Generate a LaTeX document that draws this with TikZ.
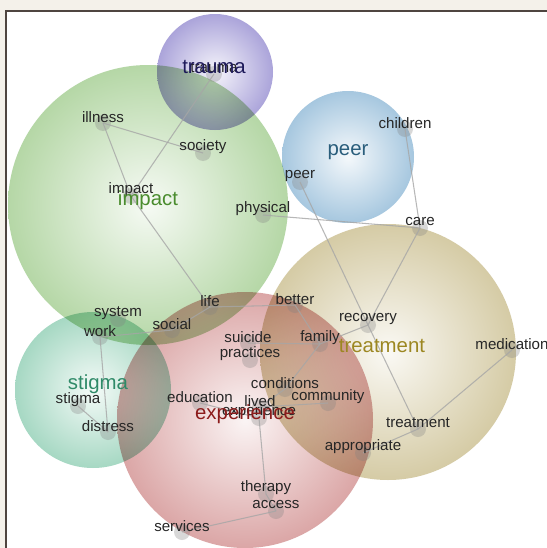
\documentclass[tikz,border=0pt]{standalone}
\usepackage{fontspec}
\setmainfont{Liberation Sans}
\usetikzlibrary{positioning}

\definecolor{paper}{HTML}{F4F1EA}
\definecolor{frame}{HTML}{4F4540}
\definecolor{traumaC}{HTML}{ABA4DA}
\definecolor{impactC}{HTML}{B5D7A6}
\definecolor{peerC}{HTML}{A6C7DF}
\definecolor{treatC}{HTML}{D5CBA5}
\definecolor{stigmaC}{HTML}{A6D8C3}
\definecolor{expC}{HTML}{DBA6A6}
\definecolor{traumaT}{HTML}{1E1A5A}
\definecolor{impactT}{HTML}{4A8C2E}
\definecolor{peerT}{HTML}{2A5E7C}
\definecolor{treatT}{HTML}{9C8722}
\definecolor{stigmaT}{HTML}{2F8A68}
\definecolor{expT}{HTML}{8C1C1C}

\begin{document}
\begin{tikzpicture}[x=0.02cm, y=-0.02cm,
    dot/.style={circle, fill=gray, fill opacity=0.3, inner sep=0pt, minimum size=0.32cm},
    word/.style={font=\fontsize{8.6}{10}\selectfont, text=black!85, inner sep=0pt},
    topic/.style={font=\fontsize{11.6}{13}\selectfont, inner sep=0pt},
    link/.style={draw=gray!70, line width=0.6pt, draw opacity=0.8},
    bubble/.style={inner color=white!88!#1, outer color=#1}]
    \useasboundingbox (0,0) rectangle (547,548);
    \fill[paper] (0,0) rectangle (547,548);
    \fill[white] (6,11) rectangle (547,548);
    \draw[frame, line width=1.2pt] (6,548) -- (6,11) -- (547,11);
    \clip (7,12) rectangle (547,548);

    % topic circles
    \begin{scope}[blend group=multiply]
        \shade[bubble=impactC] (148,205) circle (140);
        \shade[bubble=traumaC] (215,72) circle (58);
        \shade[bubble=peerC] (348,157) circle (66);
        \shade[bubble=treatC] (388,352) circle (128);
        \shade[bubble=stigmaC] (93,390) circle (78);
        \shade[bubble=expC] (245,420) circle (128);
    \end{scope}

    % words
    \foreach \n/\x/\y in {trauma/214/74, illness/103/123, society/203/153, impact/131/196,
        physical/263/215, peer/300/182, children/405/129, care/420/228, recovery/368/325,
        better/295/305, life/210/307, social/172/330, system/118/319, work/100/337,
        stigma/78/406, distress/108/432, education/200/403, suicide/248/343,
        practices/250/360, family/320/344, conditions/285/389, community/328/403,
        lived/260/407, experience/259/418, treatment/418/429, medication/512/350,
        appropriate/363/453, therapy/266/494, access/276/511, services/182/532} {
        \node[dot] (\n) at (\x,\y) {};
    }

    \foreach \a/\b in {trauma/impact, illness/society, illness/impact, impact/life,
        physical/care, peer/recovery, children/care, care/recovery, recovery/family,
        recovery/treatment, treatment/medication, treatment/appropriate, better/family,
        life/better, life/social, social/work, work/distress, stigma/distress,
        education/experience, family/suicide, family/conditions, conditions/lived,
        lived/community, experience/therapy, therapy/access, access/services} {
        \draw[link] (\a.center) -- (\b.center);
    }

    \foreach \n in {trauma, illness, society, impact, physical, peer, children, care,
        recovery, better, life, social, system, work, stigma, distress, education,
        suicide, practices, family, conditions, community, lived, experience,
        treatment, medication, appropriate, therapy, access, services} {
        \node[word] (\n-t) at ([yshift=0.12cm]\n.center) {\n};
    }

    % topic labels
    \node[topic, text=traumaT] (trauma-c) at (214,67) {trauma};
    \node[topic, text=impactT] (impact-c) at (148,200) {impact};
    \node[topic, text=peerT] (peer-c) at (348,152) {peer};
    \node[topic, text=treatT] (treatment-c) at (382,346) {treatment};
    \node[topic, text=stigmaT] (stigma-c) at (98,384) {stigma};
    \node[topic, text=expT] (experience-c) at (245,414) {experience};
\end{tikzpicture}
\end{document}
